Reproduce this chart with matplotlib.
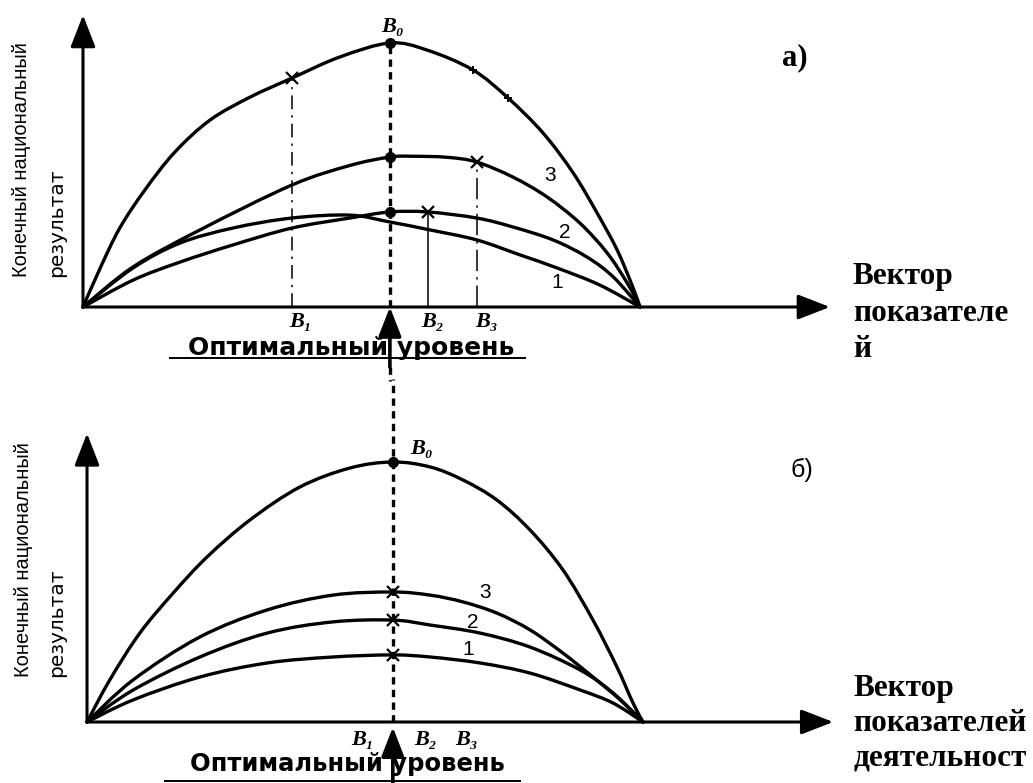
import numpy as np
import matplotlib.pyplot as plt
from matplotlib.path import Path
from matplotlib.patches import PathPatch

plt.rcParams['font.family'] = ['Liberation Sans', 'DejaVu Sans']

# ---------- данные: верхняя панель (а) ----------
# огибающая (кривая В0)
top_env_x = [0, 0.31, 0.66, 1.11, 1.65, 2.28, 3.00, 3.75, 4.61, 5.51, 6.18, 7.00, 7.63, 8.26, 8.80, 9.23, 9.59, 9.87, 10]
top_env_y = [0, 1.48, 2.99, 4.43, 5.87, 7.08, 7.95, 8.67, 9.47, 10.0, 9.73, 8.98, 7.92, 6.59, 5.08, 3.56, 2.16, 0.76, 0]
# кривые 1, 2, 3
top_c1_x = [0, 0.90, 1.74, 2.69, 3.75, 4.79, 5.51, 6.23, 7.07, 7.85, 8.51, 9.28, 10]
top_c1_y = [0, 1.48, 2.42, 2.99, 3.37, 3.48, 3.22, 2.92, 2.54, 1.97, 1.48, 0.83, 0]
top_c2_x = [0, 0.90, 1.74, 2.69, 3.75, 4.79, 5.51, 6.19, 7.07, 7.72, 8.44, 9.05, 9.52, 10]
top_c2_y = [0, 1.02, 1.70, 2.35, 2.99, 3.37, 3.60, 3.60, 3.37, 3.03, 2.54, 1.89, 1.14, 0]
top_c3_x = [0, 0.90, 2.10, 3.75, 4.79, 5.51, 5.92, 6.54, 7.07, 7.72, 8.33, 8.92, 9.41, 9.77, 10]
top_c3_y = [0, 1.52, 2.92, 4.62, 5.36, 5.68, 5.71, 5.67, 5.49, 4.92, 4.17, 3.18, 2.05, 0.91, 0]
top_opt = 5.51
top_b_x = [3.75, 6.19, 7.07]        # В1, В2, В3
top_b_y = [8.67, 3.60, 5.49]
top_dots_y = [10.0, 5.68, 3.60]
top_ticks_x = [7.00, 7.63]
top_ticks_y = [8.98, 7.92]

# ---------- данные: нижняя панель (б) ----------
bot_env_x = [0, 0.41, 0.95, 1.55, 2.16, 2.93, 3.83, 4.73, 5.50, 6.17, 6.76, 7.37, 7.97, 8.56, 9.10, 9.53, 9.82, 10]
bot_env_y = [0, 1.62, 3.42, 4.96, 6.35, 7.77, 9.04, 9.77, 10.0, 9.81, 9.31, 8.54, 7.38, 5.85, 3.92, 2.12, 0.73, 0]
bot_c1_x = [0, 0.83, 2.03, 3.24, 4.42, 5.50, 6.17, 7.07, 7.97, 8.87, 9.46, 10]
bot_c1_y = [0, 0.85, 1.73, 2.27, 2.50, 2.58, 2.50, 2.27, 1.88, 1.23, 0.73, 0]
bot_c2_x = [0, 0.83, 2.03, 3.24, 4.42, 5.50, 6.17, 7.07, 7.97, 8.87, 9.46, 10]
bot_c2_y = [0, 1.23, 2.50, 3.42, 3.85, 3.92, 3.73, 3.42, 2.88, 2.00, 1.12, 0]
bot_c3_x = [0, 0.83, 2.03, 3.24, 4.42, 5.50, 6.17, 6.76, 7.37, 7.97, 8.56, 9.10, 9.59, 10]
bot_c3_y = [0, 1.62, 3.27, 4.31, 4.88, 5.00, 4.88, 4.62, 4.19, 3.54, 2.65, 1.73, 0.85, 0]
bot_opt = 5.50

y_label_1 = 'Конечный национальный'
y_label_2 = 'результат'
opt_label = 'Оптимальный уровень'
serif = ['Liberation Serif', 'DejaVu Serif']


def smooth_path(xs, ys):
    # кривая Катмулла-Рома через опорные точки, в виде кубических Безье
    p = np.column_stack([xs, ys]).astype(float)
    ext = np.vstack([p[0], p, p[-1]])
    verts = [p[0]]
    codes = [Path.MOVETO]
    for i in range(1, len(ext) - 2):
        p0, p1, p2, p3 = ext[i - 1], ext[i], ext[i + 1], ext[i + 2]
        verts += [p1 + (p2 - p0) / 6, p2 - (p3 - p1) / 6, p2]
        codes += [Path.CURVE4] * 3
    return Path(verts, codes)


def draw_curve(ax, xs, ys, lw=2.4):
    ax.add_patch(PathPatch(smooth_path(xs, ys), fill=False, lw=lw, color='black',
                           capstyle='round', joinstyle='round'))


def axis_arrow(ax, x0, y0, x1, y1, lw=2.2, size=22):
    ax.annotate('', xy=(x1, y1), xytext=(x0, y0), annotation_clip=False,
                arrowprops=dict(arrowstyle='-|>,head_length=0.9,head_width=0.35',
                                lw=lw, color='black', mutation_scale=size,
                                shrinkA=0, shrinkB=0))


def b_label(ax, x, y, text, **kw):
    ax.text(x, y, text, va='center', fontsize=16, fontweight='bold',
            fontstyle='italic', family=serif, **kw)


fig = plt.figure(figsize=(10.33, 7.83), dpi=100)
ax1 = fig.add_axes([0, 403 / 783, 1, 380 / 783])
ax2 = fig.add_axes([0, 0, 1, 403 / 783])
ax1.set_xlim(-1.490, 17.056)
ax1.set_ylim(-2.765, 11.629)
ax2.set_xlim(-1.565, 17.014)
ax2.set_ylim(-2.346, 13.154)
for ax in (ax1, ax2):
    ax.set_axis_off()

# ===== верхняя панель =====
axis_arrow(ax1, 0, 0, 0, 11.06)
axis_arrow(ax1, 0, 0, 13.41, 0)
for xs, ys in [(top_env_x, top_env_y), (top_c1_x, top_c1_y),
               (top_c2_x, top_c2_y), (top_c3_x, top_c3_y)]:
    draw_curve(ax1, xs, ys)

# проекции В1, В2, В3
ax1.plot([top_b_x[0]] * 2, [0, top_b_y[0]], color='black', lw=1.1, ls=(0, (9, 4, 1.5, 4)))
ax1.plot([top_b_x[1]] * 2, [0, top_b_y[1]], color='black', lw=1.1)
ax1.plot([top_b_x[2]] * 2, [0, top_b_y[2]], color='black', lw=1.1, ls=(0, (14, 4, 1.5, 4)))
ax1.plot([top_opt, top_opt], [0, top_dots_y[0]], color='black', lw=2.4, ls=(0, (2.2, 1.6)))
ax1.plot([top_opt] * 3, top_dots_y, 'o', color='black', ms=7)
ax1.plot(top_b_x, top_b_y, 'x', color='black', ms=8, mew=1.6)
ax1.plot(top_ticks_x, top_ticks_y, '+', color='black', ms=6, mew=1.4)

b_label(ax1, top_opt - 0.15, 10.6, 'B₀', ha='left')
for bx, name in zip([3.90, 6.27, 7.24], ['B₁', 'B₂', 'B₃']):
    b_label(ax1, bx, -0.57, name, ha='center')
for lx, ly, name in [(8.38, 5.0, '3'), (8.65, 2.81, '2'), (8.51, 0.91, '1')]:
    ax1.text(lx, ly, name, ha='center', va='center', fontsize=15)

axis_arrow(ax1, top_opt, -2.27, top_opt, 0, lw=2.6, size=20)
ax1.text(4.82, -1.57, opt_label, ha='center', va='center', fontsize=18,
         family=['DejaVu Sans'], fontweight='bold')
ax1.plot([1.56, 7.94], [-1.92, -1.92], color='black', lw=1.4)

ax1.text(-1.10, 1.14, y_label_1, rotation=90, ha='center', va='bottom', fontsize=14.5)
ax1.text(-0.48, 1.14, y_label_2, rotation=90, ha='center', va='bottom', fontsize=14.5,
         family=['DejaVu Sans'])
ax1.text(12.78, 9.43, 'а)', ha='center', va='center', fontsize=22, fontweight='bold',
         family=serif)
ax1.text(13.82, -0.23, 'Вектор\nпоказателе\nй', ha='left', va='center', fontsize=22.5,
         fontweight='bold', family=serif, linespacing=1.36)

# ===== нижняя панель =====
axis_arrow(ax2, 0, 0, 0, 11.1)
axis_arrow(ax2, 0, 0, 13.42, 0)
for xs, ys in [(bot_env_x, bot_env_y), (bot_c1_x, bot_c1_y),
               (bot_c2_x, bot_c2_y), (bot_c3_x, bot_c3_y)]:
    draw_curve(ax2, xs, ys)

ax2.plot([bot_opt], [10.0], 'o', color='black', ms=7)
ax2.plot([bot_opt] * 3, [bot_c1_y[5], bot_c2_y[5], bot_c3_y[5]], 'x', color='black', ms=8, mew=1.6)

b_label(ax2, 5.81, 10.5, 'B₀', ha='left')
for bx, name in zip([4.95, 6.08, 6.83], ['B₁', 'B₂', 'B₃']):
    b_label(ax2, bx, -0.68, name, ha='center')
for lx, ly, name in [(7.16, 5.0, '3'), (6.94, 3.81, '2'), (6.85, 2.77, '1')]:
    ax2.text(lx, ly, name, ha='center', va='center', fontsize=15)

# пунктир оптимального уровня через обе панели
ax2.plot([bot_opt, bot_opt], [0, 13.2], color='black', lw=2.4, ls=(0, (2.2, 1.6)),
         clip_on=False)
ax1.plot([top_opt, top_opt], [-2.27, -2.8], color='black', lw=2.4, ls=(0, (2.2, 1.6)),
         clip_on=False)
axis_arrow(ax2, bot_opt, -2.4, bot_opt, -0.2, lw=2.6, size=20)

ax2.text(4.68, -1.62, opt_label, ha='center', va='center', fontsize=17.5,
         family=['DejaVu Sans'], fontweight='bold')
ax2.plot([1.40, 7.79], [-2.25, -2.25], color='black', lw=1.4)

ax2.text(-1.15, 1.73, y_label_1, rotation=90, ha='center', va='bottom', fontsize=14.5)
ax2.text(-0.54, 1.73, y_label_2, rotation=90, ha='center', va='bottom', fontsize=14.5,
         family=['DejaVu Sans'])
ax2.text(12.86, 9.69, 'б)', ha='center', va='center', fontsize=18)
ax2.text(13.78, -0.04, 'Вектор\nпоказателей\nдеятельност', ha='left', va='center',
         fontsize=22.5, fontweight='bold', family=serif, linespacing=1.27)

fig.savefig('out.png', dpi=100, facecolor='white')
